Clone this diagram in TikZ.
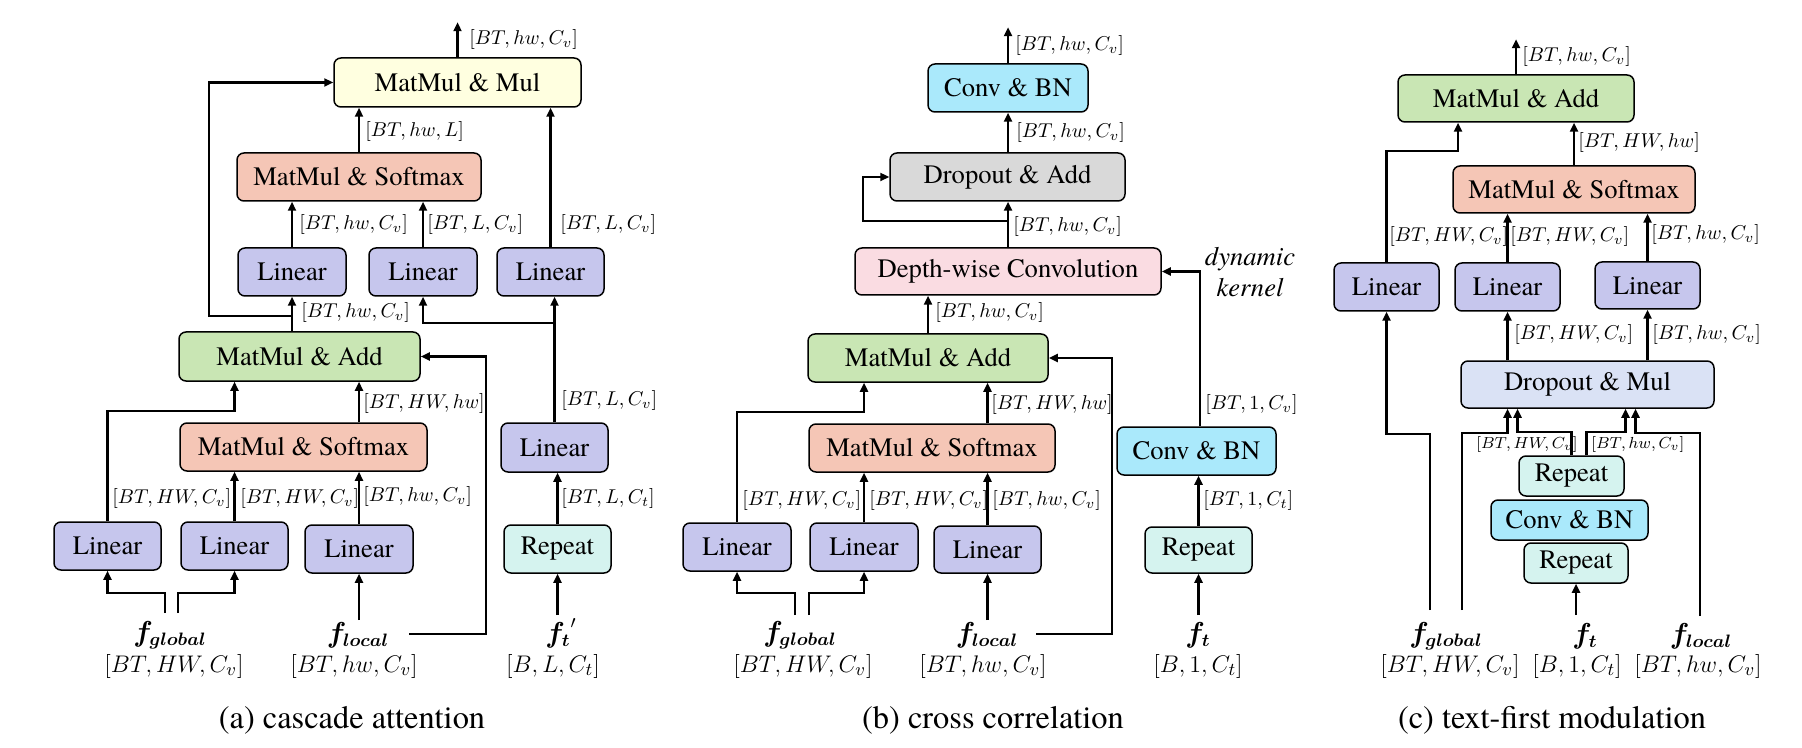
\documentclass[tikz,border=0pt]{standalone}
\usepackage{fontspec}
\IfFontExistsTF{TeX Gyre Termes}
  {\setmainfont{TeX Gyre Termes}}
  {\setmainfont{Liberation Serif}}
\usepackage{bm}
\usetikzlibrary{arrows.meta}
\definecolor{clin}{RGB}{198,198,237}
\definecolor{csoft}{RGB}{245,198,182}
\definecolor{cgreen}{RGB}{201,230,180}
\definecolor{cyel}{RGB}{255,255,224}
\definecolor{crep}{RGB}{213,243,239}
\definecolor{ccyan}{RGB}{170,233,251}
\definecolor{cgray}{RGB}{217,217,217}
\definecolor{cpink}{RGB}{250,220,226}
\definecolor{cdm}{RGB}{218,226,245}
\newcommand{\rmtxt}{\rmfamily\fontsize{13.3}{15}\selectfont}
\tikzset{
  box/.style={draw=black, line width=0.75pt, rounded corners=3.5pt, inner sep=0pt,
    font=\rmtxt},
  wh/.style 2 args={minimum width=#1*0.5pt, minimum height=#2*0.5pt},
  arr/.style={-{Triangle[length=4.5pt,width=4pt]}, line width=1.1pt},
  lab/.style={inner sep=0pt, anchor=west, font=\fontsize{10}{11}\selectfont},
  slab/.style={inner sep=0pt, anchor=west, font=\fontsize{8.3}{9}\selectfont},
  inp/.style={inner sep=0pt, font=\fontsize{12.7}{14}\selectfont},
  fin/.style={inner sep=0pt, font=\fontsize{13.5}{15}\selectfont},
  captxt/.style={inner sep=0pt, font=\rmfamily\fontsize{16.2}{19}\selectfont},
}
\begin{document}
\begin{tikzpicture}[x=0.5pt,y=-0.5pt]
\useasboundingbox (0,0) rectangle (1802,748);

% ================= panel (a) =================
\node[box, fill=cyel,   wh={247}{49}] (aMM)  at (457.5,82.5) {MatMul \& Mul};
\node[box, fill=csoft,  wh={244}{48}] (aSM1) at (359,177) {MatMul \& Softmax};
\node[box, fill=clin,   wh={108}{48}] (aL1)  at (292,272) {Linear};
\node[box, fill=clin,   wh={108}{48}] (aL2)  at (423,272) {Linear};
\node[box, fill=clin,   wh={107}{48}] (aL3)  at (550.5,272) {Linear};
\node[box, fill=cgreen, wh={241}{49}] (aMA)  at (299.5,356.5) {MatMul \& Add};
\node[box, fill=csoft,  wh={247}{48}] (aSM2) at (303.5,447) {MatMul \& Softmax};
\node[box, fill=clin,   wh={107}{48}] (aLa)  at (107.5,546) {Linear};
\node[box, fill=clin,   wh={107}{48}] (aLb)  at (234.5,546) {Linear};
\node[box, fill=clin,   wh={108}{48}] (aLc)  at (359,549) {Linear};
\node[box, fill=clin,   wh={107}{49}] (aLd)  at (554.5,447.5) {Linear};
\node[box, fill=crep,   wh={107}{48}] (aRep) at (557.5,549) {Repeat};

\node[fin] (aFg) at (170,635) {$\bm{f_{global}}$};
\node[inp] (aFgs) at (174,666) {$[BT,HW,C_v]$};
\node[fin] (aFl) at (358,635) {$\bm{f_{local}}$};
\node[inp] (aFls) at (354,666) {$[BT,hw,C_v]$};
\node[fin] (aFt) at (561,633) {${\bm{f_{t}}}^{\prime}$};
\node[inp] (aFts) at (553,666) {$[B,L,C_t]$};
\node[captxt] (aCap) at (352,720) {(a) cascade attention};

\draw[arr] (aMM.north) -- ++(0,-35) coordinate (aOut);
\node[lab] (la1) at (469,40) {$[BT,hw,C_v]$};
\draw[arr] (aSM1.north) -- (aSM1.north |- aMM.south);
\node[lab] (la2) at (365,132) {$[BT,hw,L]$};
\draw[arr] (aL1.north) -- (aL1.north |- aSM1.south);
\node[lab] (la3) at (299,225) {$[BT,hw,C_v]$};
\draw[arr] (aL2.north) -- (aL2.north |- aSM1.south);
\node[lab] (la4) at (427,225) {$[BT,L,C_v]$};
\draw[arr] (aL3.north) -- (aL3.north |- aMM.south);
\node[lab] (la5) at (560,225) {$[BT,L,C_v]$};
\draw[arr] (aMA.north -| aL1.south) -- (aL1.south);
\node[lab] (la6) at (301,313) {$[BT,hw,C_v]$};
\coordinate (aJ1) at (292,316);
\draw[arr] (aJ1) -- ++(-83,0) |- (aMM.west);
\draw[arr] (aLd.north) -- (aLd.north |- aL3.south);
\node[lab] (la7) at (561,400) {$[BT,L,C_v]$};
\coordinate (aJ2) at (554.5,323);
\draw[arr] (aJ2) -| (aL2.south);
\draw[arr] (aRep.north) -- (aRep.north |- aLd.south);
\node[lab] (la8) at (561,498) {$[BT,L,C_t]$};
\draw[arr] (aLa.north) -- ++(0,-110) -| (aMA.south -| aLb.north);
\node[lab] (la9) at (112,498) {$[BT,HW,C_v]$};
\draw[arr] (aLb.north) -- (aLb.north |- aSM2.south);
\node[lab] (la10) at (240,498) {$[BT,HW,C_v]$};
\draw[arr] (aLc.north) -- (aLc.north |- aSM2.south);
\node[lab] (la11) at (363,496) {$[BT,hw,C_v]$};
\draw[arr] (aSM2.north -| aLc.north) -- (aMA.south -| aLc.north);
\node[lab] (la12) at (363,403) {$[BT,HW,hw]$};
\coordinate (aFlR) at (409,634);
\draw[arr] (aFlR) -- (486,634) |- (aMA.east);
\coordinate (aFg1) at (165,613);
\draw[arr] (aFg1) -- ++(0,-20) -| (aLa.south);
\coordinate (aFg2) at (178,613);
\draw[arr] (aFg2) -- ++(0,-20) -| (aLb.south);
\coordinate (aFlT) at (359,620);
\draw[arr] (aFlT) -- (aLc.south);
\coordinate (aFtT) at (557.5,615);
\draw[arr] (aFtT) -- (aRep.south);

% ================= panel (b) =================
\node[box, fill=ccyan,  wh={160}{48}] (bCB)  at (1008,88) {Conv \& BN};
\node[box, fill=cgray,  wh={235}{48}] (bDA)  at (1007.5,177) {Dropout \& Add};
\node[box, fill=cpink,  wh={306}{47}] (bDW)  at (1008,271.5) {Depth-wise Convolution};
\node[box, fill=cgreen, wh={240}{48}] (bMA)  at (928,358) {MatMul \& Add};
\node[box, fill=csoft,  wh={246}{48}] (bSM)  at (932,448) {MatMul \& Softmax};
\node[box, fill=clin,   wh={108}{48}] (bLa)  at (737,547) {Linear};
\node[box, fill=clin,   wh={108}{48}] (bLb)  at (864,547) {Linear};
\node[box, fill=clin,   wh={107}{47}] (bLc)  at (987.5,549.5) {Linear};
\node[box, fill=ccyan,  wh={159}{48}] (bCB2) at (1196.5,451) {Conv \& BN};
\node[box, fill=crep,   wh={107}{46}] (bRep) at (1198.5,550) {Repeat};

\node[inner sep=0pt, align=center, font=\rmfamily\itshape\fontsize{13.3}{15.5}\selectfont] (bDK) at (1250,272) {dynamic\\kernel};

\node[fin] (bFg) at (800,635) {$\bm{f_{global}}$};
\node[inp] (bFgs) at (803,666) {$[BT,HW,C_v]$};
\node[fin] (bFl) at (987,635) {$\bm{f_{local}}$};
\node[inp] (bFls) at (983,666) {$[BT,hw,C_v]$};
\node[fin] (bFt) at (1198,635) {$\bm{f_{t}}$};
\node[inp] (bFts) at (1198,666) {$[B,1,C_t]$};
\node[captxt] (bCap) at (993,720) {(b) cross correlation};

\draw[arr] (bCB.north) -- ++(0,-36) coordinate (bOut);
\node[lab] (lb1) at (1015,46) {$[BT,hw,C_v]$};
\draw[arr] (bDA.north -| bCB.north) -- (bCB.south);
\node[lab] (lb2) at (1016,133) {$[BT,hw,C_v]$};
\draw[arr] (bDW.north -| bCB.north) -- (bDA.south -| bCB.north);
\node[lab] (lb3) at (1013,227) {$[BT,hw,C_v]$};
\coordinate (bJ1) at (1008,221);
\draw[arr] (bJ1) -- (863,221) |- (bDA.west);
\draw[arr] (bMA.north) -- (bMA.north |- bDW.south);
\node[lab] (lb4) at (935,313) {$[BT,hw,C_v]$};
\draw[arr] ([xshift=1.75pt]bCB2.north) |- (bDW.east);
\node[lab] (lb5) at (1205,404) {$[BT,1,C_v]$};
\draw[arr] (bRep.north) -- (bRep.north |- bCB2.south);
\node[lab] (lb6) at (1203,500) {$[BT,1,C_t]$};
\draw[arr] (bSM.north -| bLc.north) -- (bMA.south -| bLc.north);
\node[lab] (lb7) at (991,404) {$[BT,HW,hw]$};
\draw[arr] (bLa.north) -- ++(0,-110) -| (bMA.south -| bLb.north);
\node[lab] (lb8) at (742,500) {$[BT,HW,C_v]$};
\draw[arr] (bLb.north) -- (bLb.north |- bSM.south);
\node[lab] (lb9) at (869,500) {$[BT,HW,C_v]$};
\draw[arr] (bLc.north) -- (bLc.north |- bSM.south);
\node[lab] (lb10) at (992,500) {$[BT,hw,C_v]$};
\coordinate (bFlR) at (1036,634);
\draw[arr] (bFlR) -- (1112,634) |- (bMA.east);
\coordinate (bFg1) at (795,615);
\draw[arr] (bFg1) -- ++(0,-22) -| (bLa.south);
\coordinate (bFg2) at (809,615);
\draw[arr] (bFg2) -- ++(0,-22) -| (bLb.south);
\coordinate (bFlT) at (987.5,620);
\draw[arr] (bFlT) -- (bLc.south);
\coordinate (bFtT) at (1198.5,615);
\draw[arr] (bFtT) -- (bRep.south);

% ================= panel (c) =================
\node[box, fill=cgreen, wh={236}{47}] (cMA)  at (1516,98.5) {MatMul \& Add};
\node[box, fill=csoft,  wh={242}{47}] (cSM)  at (1574,189.5) {MatMul \& Softmax};
\node[box, fill=clin,   wh={105}{48}] (cL1)  at (1386.5,287) {Linear};
\node[box, fill=clin,   wh={105}{48}] (cL2)  at (1507.5,287) {Linear};
\node[box, fill=clin,   wh={105}{47}] (cL3)  at (1647.5,285.5) {Linear};
\node[box, fill=cdm,    wh={253}{47}] (cDM)  at (1587.5,384.5) {Dropout \& Mul};
\node[box, fill=crep,   wh={105}{40}] (cRep1) at (1571.5,476) {Repeat};
\node[box, fill=ccyan,  wh={157}{40}] (cCB)  at (1569.5,520) {Conv \& BN};
\node[box, fill=crep,   wh={104}{40}] (cRep2) at (1576,563) {Repeat};

\node[fin] (cFg) at (1446,636) {$\bm{f_{global}}$};
\node[inp] (cFgs) at (1450,666) {$[BT,HW,C_v]$};
\node[fin] (cFt) at (1585,636) {$\bm{f_{t}}$};
\node[inp] (cFts) at (1577,666) {$[B,1,C_t]$};
\node[fin] (cFl) at (1701,636) {$\bm{f_{local}}$};
\node[inp] (cFls) at (1698,666) {$[BT,hw,C_v]$};
\node[captxt] (cCap) at (1552,720) {(c) text-first modulation};

\draw[arr] (cMA.north) -- ++(0,-35) coordinate (cOut);
\node[lab] (lc1) at (1522,57) {$[BT,hw,C_v]$};
\draw[arr] (cL1.north) -- ++(0,-111) -| ([xshift=-29pt]cMA.south);
\node[lab] (lc2) at (1389,237) {$[BT,HW,C_v]$};
\draw[arr] (cSM.north) -- (cSM.north |- cMA.south);
\node[lab] (lc3) at (1578,143) {$[BT,HW,hw]$};
\draw[arr] (cL2.north) -- (cL2.north |- cSM.south);
\node[lab] (lc4) at (1510,237) {$[BT,HW,C_v]$};
\draw[arr] (cL3.north) -- (cL3.north |- cSM.south);
\node[lab] (lc5) at (1651,235) {$[BT,hw,C_v]$};
\coordinate (cFg1) at (1430,610);
\draw[arr] (cFg1) -- (1430,434) -| (cL1.south);
\draw[arr] (cDM.north -| cL2.south) -- (cL2.south);
\node[lab] (lc6) at (1514,335) {$[BT,HW,C_v]$};
\draw[arr] (cDM.north -| cL3.south) -- (cL3.south);
\node[lab] (lc7) at (1652,335) {$[BT,hw,C_v]$};
\coordinate (cFg2) at (1462,610);
\draw[arr] (cFg2) -- (1462,433) -| (cDM.south -| cL2.south);
\draw[arr] (cRep1.north) -- ++(0,-23) -| ([xshift=-35pt]cDM.south);
\draw[arr] ([xshift=7.5pt]cRep1.north) -- ++(0,-23) -| ([xshift=19pt]cDM.south);
\coordinate (cFlT) at (1700,616);
\draw[arr] (cFlT) -- (1700,433) -| ([xshift=24pt]cDM.south);
\node[slab] (lc8) at (1476,444) {$[BT,HW,C_v]$};
\node[slab] (lc9) at (1591,444) {$[BT,hw,C_v]$};
\coordinate (cFtT) at (1576,615);
\draw[arr] (cFtT) -- (cRep2.south);
\end{tikzpicture}
\end{document}
